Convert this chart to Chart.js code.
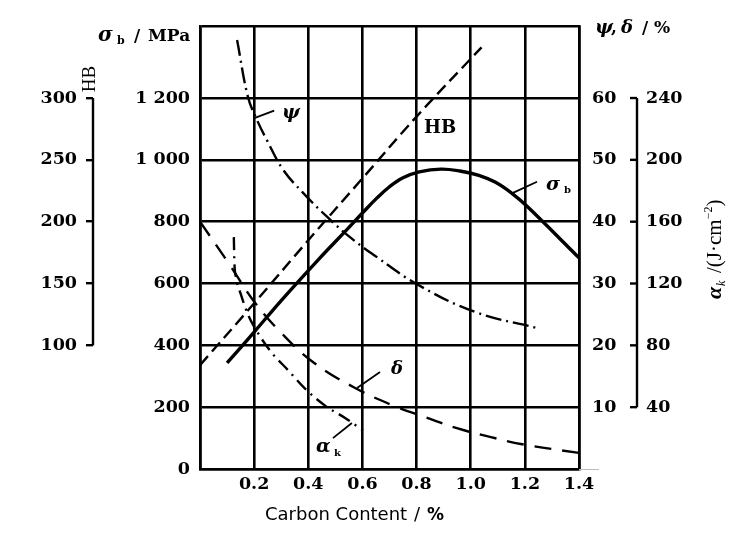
<!DOCTYPE html>
<html>
<head>
<meta charset="utf-8">
<script src="https://cdn.jsdelivr.net/npm/chart.js@4.4.1/dist/chart.umd.min.js"></script>
<style>
  html, body { margin: 0; padding: 0; background: #fff; }
  #wrap { width: 750px; height: 535px; }
</style>
</head>
<body>
<div id="wrap"><canvas id="chart" width="750" height="535"></canvas></div>
<script>
// Carbon content (%) vs. mechanical properties of steel

const xTicks      = [0, 0.2, 0.4, 0.6, 0.8, 1.0, 1.2, 1.4];
const xTickLabels = ['', '0.2', '0.4', '0.6', '0.8', '1.0', '1.2', '1.4'];

const sigmaTicks      = [0, 200, 400, 600, 800, 1000, 1200];
const sigmaTickLabels = ['0', '200', '400', '600', '800', '1 000', '1 200'];
const hbTicks         = [100, 150, 200, 250, 300];
const pdTicks         = [10, 20, 30, 40, 50, 60];
const akTicks         = [40, 80, 120, 160, 200, 240];

// σb / MPa
const carbonSigma = [0.10, 0.20, 0.30, 0.44, 0.54, 0.60, 0.654, 0.70, 0.75, 0.81, 0.89, 0.96, 1.03, 1.09, 1.15, 1.21, 1.40];
const sigmaB      = [343, 443, 545, 680, 772, 828, 877, 913, 942, 961, 970, 964, 950, 928, 893, 848, 683];

// HB
const carbonHB   = [0, 0.2, 0.4, 0.6, 0.8, 1.04];
const hardnessHB = [84, 134, 185, 235, 285, 341];

// ψ / %
const carbonPsi = [0.137, 0.177, 0.21, 0.247, 0.307, 0.38, 0.469, 0.554, 0.646, 0.805, 1.016, 1.245];
const psi       = [69.4, 60.2, 56.5, 53.2, 48.4, 44.7, 40.8, 37.5, 34.5, 29.8, 25.4, 22.8];

// δ / %
const carbonDelta = [0, 0.11, 0.203, 0.296, 0.417, 0.573, 0.728, 0.831, 0.949, 1.071, 1.19, 1.4];
const delta       = [40.0, 33.0, 26.9, 22.2, 17.3, 13.1, 10.0, 8.4, 6.6, 5.2, 4.0, 2.6];

// αk / (J·cm⁻²)
const carbonAk = [0.125, 0.127, 0.133, 0.151, 0.177, 0.214, 0.266, 0.325, 0.388, 0.462, 0.536, 0.602];
const impactAk = [150, 134, 124, 113, 100, 88, 75, 64, 52, 41, 33, 25];

const SIGMA_TOP = 1433;   // top edge of the frame on the σb scale
const INK = '#000';
const SERIF = '"DejaVu Serif", serif';
const TIMES = '"Liberation Serif", serif';

const pts = (xs, ys) => xs.map((x, i) => ({ x, y: ys[i] }));
const fixTicks = vals => s => { s.ticks = vals.map(v => ({ value: v })); };
const tickFont = { family: SERIF, size: 17.5, weight: 'bold' };

function seg(ctx, x1, y1, x2, y2) {
  ctx.beginPath(); ctx.moveTo(x1, y1); ctx.lineTo(x2, y2); ctx.stroke();
}
function txt(ctx, s, x, y, font) { ctx.font = font; ctx.fillText(s, x, y); }

// spines, hanging ticks, titles and curve labels
const decor = {
  id: 'decor',
  afterDraw(chart) {
    const { ctx } = chart;
    const { x, y, hb, pd, ak } = chart.scales;
    const px = v => x.getPixelForValue(v), py = v => y.getPixelForValue(v);
    ctx.save();
    ctx.strokeStyle = INK; ctx.fillStyle = INK; ctx.lineWidth = 2.4;
    ctx.textAlign = 'left'; ctx.textBaseline = 'alphabetic';

    seg(ctx, hb.right, hb.getPixelForValue(100), hb.right, hb.getPixelForValue(300));
    seg(ctx, ak.left, ak.getPixelForValue(40), ak.left, ak.getPixelForValue(240));
    pdTicks.forEach(v => { const t = pd.getPixelForValue(v); seg(ctx, ak.left - 7, t, ak.left, t); });

    ctx.strokeStyle = '#bbb'; ctx.lineWidth = 1;
    seg(ctx, x.right, y.bottom + 0.5, x.right + 20, y.bottom + 0.5);
    ctx.strokeStyle = INK; ctx.lineWidth = 1.8;

    // σb /MPa
    txt(ctx, 'σ', 98, 41, `bold italic 20px ${SERIF}`);
    txt(ctx, 'b', 117, 44, `bold 11px ${SERIF}`);
    txt(ctx, '/', 134, 41, `bold 17px ${SERIF}`);
    txt(ctx, 'MPa', 148, 41, `bold 17px ${SERIF}`);

    // ψ,δ /%
    txt(ctx, 'ψ', 595, 33, `bold italic 19px ${SERIF}`);
    txt(ctx, ',', 611, 33, `bold 17px ${SERIF}`);
    txt(ctx, 'δ', 621, 33, `bold italic 18px ${SERIF}`);
    txt(ctx, '/', 642, 33, `bold 17px ${SERIF}`);
    txt(ctx, '%', 654, 33, `bold 17px ${SERIF}`);

    // HB (rotated)
    ctx.save();
    ctx.translate(95, 79); ctx.rotate(-Math.PI / 2);
    ctx.textAlign = 'center';
    txt(ctx, 'HB', 0, 0, `19px ${TIMES}`);
    ctx.restore();

    // αk /(J·cm⁻²) (rotated)
    ctx.save();
    ctx.translate(721, 299); ctx.rotate(-Math.PI / 2);
    txt(ctx, 'α', 0, 0, `italic bold 22px ${TIMES}`);
    txt(ctx, 'k', 13, 4, `italic 12px ${TIMES}`);
    txt(ctx, '/(J·cm', 26, 0, `21px ${TIMES}`);
    ctx.font = `21px ${TIMES}`;
    let w = 26 + ctx.measureText('/(J·cm').width;
    txt(ctx, '−2', w, -9, `12px ${TIMES}`);
    ctx.font = `12px ${TIMES}`;
    w += ctx.measureText('−2').width;
    txt(ctx, ')', w, 0, `21px ${TIMES}`);
    ctx.restore();

    // x title
    txt(ctx, 'Carbon Content', 265, 520, `18px "DejaVu Sans", sans-serif`);
    txt(ctx, '/', 414, 520, `18px "DejaVu Sans", sans-serif`);
    txt(ctx, '%', 427, 520, `bold 17px "DejaVu Sans", sans-serif`);

    // curve labels with leaders (anchored in data units)
    seg(ctx, px(0.203), py(1136), px(0.274), py(1159));
    txt(ctx, 'ψ', 282, 118, `bold italic 19px ${SERIF}`);

    txt(ctx, 'HB', 424, 133, `bold 18px ${SERIF}`);

    seg(ctx, px(1.156), py(893), px(1.245), py(929));
    txt(ctx, 'σ', 546, 190, `bold italic 19px ${SERIF}`);
    txt(ctx, 'b', 564, 193, `bold 10px ${SERIF}`);

    seg(ctx, px(0.58), py(262), px(0.665), py(314));
    txt(ctx, 'δ', 391, 374, `bold italic 18px ${SERIF}`);

    seg(ctx, px(0.491), py(100), px(0.561), py(149));
    txt(ctx, 'α', 316, 452, `bold italic 19px ${SERIF}`);
    txt(ctx, 'k', 334, 456, `bold 10px ${SERIF}`);

    ctx.restore();
  }
};

new Chart(document.getElementById('chart'), {
  type: 'line',
  data: {
    datasets: [
      { label: 'σb', data: pts(carbonSigma, sigmaB), yAxisID: 'y', borderWidth: 3.4 },
      { label: 'HB', data: pts(carbonHB, hardnessHB), yAxisID: 'hb', borderDash: [12, 6] },
      { label: 'ψ', data: pts(carbonPsi, psi), yAxisID: 'pd', borderDash: [16, 5, 2, 5] },
      { label: 'δ', data: pts(carbonDelta, delta), yAxisID: 'pd', borderDash: [17, 11] },
      { label: 'αk', data: pts(carbonAk, impactAk), yAxisID: 'ak', borderDash: [13, 6, 2, 6], cubicInterpolationMode: 'monotone' },
    ],
  },
  options: {
    responsive: false, animation: false,
    layout: { padding: { top: 26, left: 0, right: 0, bottom: 0 } },
    elements: {
      line: { borderColor: INK, borderWidth: 2.4, tension: 0.4, fill: false },
      point: { radius: 0 },
    },
    plugins: { legend: { display: false }, tooltip: { enabled: false } },
    scales: {
      x: {
        type: 'linear', position: 'bottom', min: 0, max: 1.4,
        afterBuildTicks: fixTicks(xTicks),
        afterFit: s => { s.height = 66; },
        ticks: { callback: (v, i) => xTickLabels[i], color: INK, font: tickFont, padding: 5, maxRotation: 0, autoSkip: false },
        grid: { color: INK, lineWidth: 2.6, drawTicks: false },
        border: { display: true, color: INK, width: 2.6 },
      },
      y: {
        position: 'left', weight: 0, min: 0, max: SIGMA_TOP,
        afterBuildTicks: fixTicks([...sigmaTicks, SIGMA_TOP]),
        afterFit: s => { s.width = 107; },
        ticks: { callback: (v, i) => sigmaTickLabels[i] ?? '', color: INK, font: tickFont, padding: 10 },
        grid: { color: INK, lineWidth: 2.6, drawTicks: false },
        border: { display: true, color: INK, width: 2.6 },
      },
      hb: {
        position: 'left', weight: 1, min: 0, max: SIGMA_TOP / 4,
        afterBuildTicks: fixTicks(hbTicks),
        afterFit: s => { s.width = 93; },
        ticks: { color: INK, font: tickFont, padding: 9 },
        grid: { color: INK, lineWidth: 2.4, drawOnChartArea: false, drawTicks: true, tickLength: 7 },
        border: { display: false },
      },
      pd: {
        position: 'right', weight: 0, min: 0, max: SIGMA_TOP / 20,
        afterBuildTicks: fixTicks(pdTicks),
        afterFit: s => { s.width = 58; },
        ticks: { color: INK, font: tickFont, padding: 13 },
        grid: { display: false, drawOnChartArea: false, drawTicks: false },
        border: { display: true, color: INK, width: 2.6 },
      },
      ak: {
        position: 'right', weight: 1, min: 0, max: SIGMA_TOP / 5,
        afterBuildTicks: fixTicks(akTicks),
        afterFit: s => { s.width = 113; },
        ticks: { color: INK, font: tickFont, padding: 9 },
        grid: { display: false, drawOnChartArea: false, drawTicks: false },
        border: { display: false },
      },
    },
  },
  plugins: [decor],
});
</script>
</body>
</html>
